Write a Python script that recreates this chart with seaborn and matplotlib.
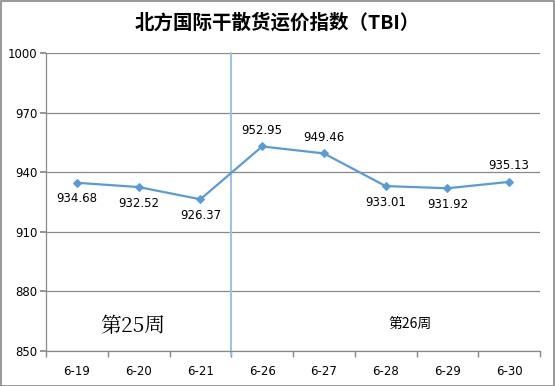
import matplotlib
matplotlib.use("Agg")
import matplotlib.pyplot as plt
import seaborn as sns
import pandas as pd
from matplotlib.patches import Rectangle

dates = ["6-19", "6-20", "6-21", "6-26", "6-27", "6-28", "6-29", "6-30"]
values = [934.68, 932.52, 926.37, 952.95, 949.46, 933.01, 931.92, 935.13]
label_above = [False, False, False, True, True, False, False, True]
yticks = [850, 880, 910, 940, 970, 1000]
title = "北方国际干散货运价指数（TBI）"

sns.set_theme(style="white")
plt.rcParams['font.family'] = ['Noto Sans CJK SC', 'DejaVu Sans']
plt.rcParams['text.color'] = 'black'
plt.rcParams['xtick.color'] = 'black'
plt.rcParams['ytick.color'] = 'black'

df = pd.DataFrame({"date": dates, "value": values})

fig = plt.figure(figsize=(5.55, 3.86), dpi=100)
ax = fig.add_axes([46/555, 35/386, 494/555, 298/386])

line_color = "#5B9BD5"
sns.lineplot(data=df, x="date", y="value", ax=ax, color=line_color, lw=1.6,
             marker="D", markersize=4.5, markeredgecolor=line_color, sort=False)

ax.set_xlim(-0.5, len(dates) - 0.5)
ax.set_ylim(850, 1000)
ax.set_yticks(yticks)
ax.set_yticklabels([str(v) for v in yticks], fontsize=8.5, family="DejaVu Sans")
ax.set_xticks(range(len(dates)))
ax.set_xticklabels(dates, fontsize=8.5, family="DejaVu Sans")
ax.set_xticks([i - 0.5 for i in range(len(dates) + 1)], minor=True)
ax.tick_params(axis="x", which="major", length=0, pad=10, labelcolor="black")
ax.tick_params(axis="x", which="minor", length=4, color="#888888", direction="out", bottom=True)
ax.tick_params(axis="y", length=4, color="#888888", direction="out", left=True, pad=2, labelcolor="black")
ax.set_xlabel("")
ax.set_ylabel("")
ax.yaxis.grid(True, color="#888888", lw=0.9)
ax.xaxis.grid(False)
for s in ["top", "right"]:
    ax.spines[s].set_visible(False)
for s in ["left", "bottom"]:
    ax.spines[s].set_color("#888888")
    ax.spines[s].set_linewidth(0.9)

for i, (v, up) in enumerate(zip(values, label_above)):
    if up:
        ax.annotate(f"{v:.2f}", (i, v), xytext=(0, 7), textcoords="offset points",
                    ha="center", va="bottom", fontsize=8.5, family="DejaVu Sans", color="black")
    else:
        ax.annotate(f"{v:.2f}", (i, v), xytext=(0, -7), textcoords="offset points",
                    ha="center", va="top", fontsize=8.5, family="DejaVu Sans", color="black")

# week separator
ax.plot([2.5, 2.5], [1000, 848], color="#9DC3E6", lw=1.5, clip_on=False, zorder=1)

ax.text(0.9, 857, "第25周", fontsize=15, family=["Noto Serif CJK SC", "Noto Sans CJK SC", "DejaVu Serif"],
        ha="center", va="bottom", color="black")
ax.text(5.4, 860, "第26周", fontsize=10, ha="center", va="bottom", color="black")

fig.text(0.5, 0.94, title, ha="center", va="center", fontsize=14, fontweight="bold", color="black")

fig.patches.append(Rectangle((0.001, 0.001), 0.997, 0.997, transform=fig.transFigure,
                             fill=False, edgecolor="#888888", lw=1.2))

fig.savefig("out.png", dpi=100)
